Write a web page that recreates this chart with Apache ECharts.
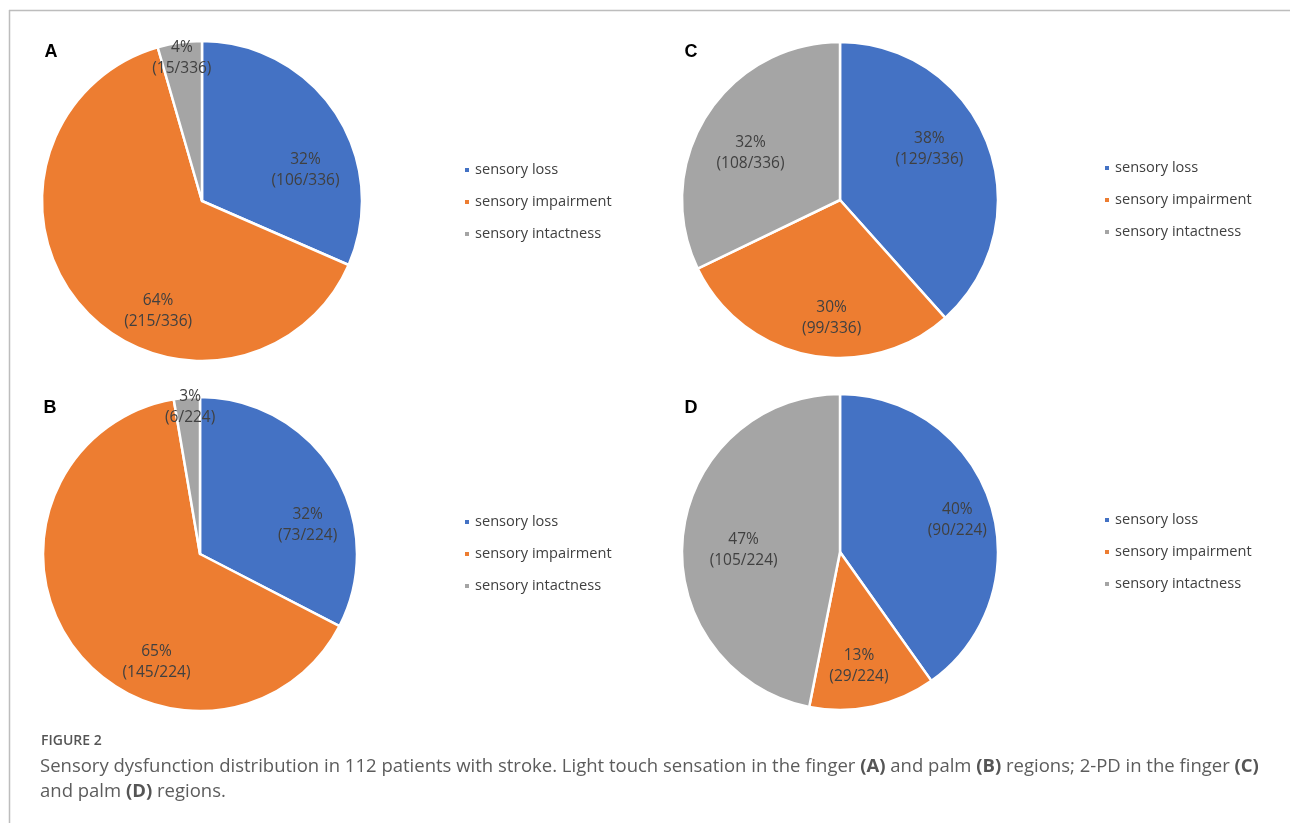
<!DOCTYPE html>
<html>
<head>
<meta charset="utf-8">
<script src="https://cdn.jsdelivr.net/npm/echarts@6/dist/echarts.min.js"></script>
<style>
  html, body { margin: 0; padding: 0; background: #fff; }
  #main { width: 1290px; height: 823px; }
</style>
</head>
<body>
<div id="main"></div>
<script>
// categories shared by all four pies
var categories = ['sensory loss', 'sensory impairment', 'sensory intactness'];
// counts per panel (loss, impairment, intactness)
var valuesA = [106, 215, 15];   // light touch, finger
var valuesB = [73, 145, 6];     // light touch, palm
var valuesC = [129, 99, 108];   // 2-PD, finger
var valuesD = [90, 29, 105];    // 2-PD, palm
var panelNames = ['A', 'B', 'C', 'D'];

var colors = ['#4472C4', '#ED7D31', '#A5A5A5'];
var textFont = '"Open Sans", "Noto Sans", sans-serif';

// pie geometry for each panel
var pies = [
  { center: [202, 201], r: 160, data: valuesA, legendLeft: 463, legendTop: 162, tag: [51, 52] },
  { center: [200, 554], r: 157, data: valuesB, legendLeft: 463, legendTop: 514, tag: [50, 408] },
  { center: [840, 200], r: 158, data: valuesC, legendLeft: 1103, legendTop: 160, tag: [691, 52] },
  { center: [840, 552], r: 158, data: valuesD, legendLeft: 1103, legendTop: 512, tag: [691, 408] }
];
// where the data labels sit: [fraction of radius, angle shift in degrees] (excel "best fit" look)
var labelPlace = [
  [[0.675, 16.6], [0.74, -27], [0.9, 0]],
  [[0.71, 16.3], [0.745, -32], [0.94, 1]],
  [[0.65, -8.6], [0.75, -7.2], [0.64, -4.4]],
  [[0.77, 2.4], [0.73, 2.6], [0.61, -4.6]]
];

function sum(arr) { return arr.reduce(function (a, b) { return a + b; }, 0); }

var series = pies.map(function (p, si) {
  var total = sum(p.data);
  return {
    name: panelNames[si],
    type: 'pie',
    center: p.center,
    radius: p.r,
    startAngle: 90,
    clockwise: true,
    percentPrecision: 0,
    silent: true,
    itemStyle: { borderColor: '#fff', borderWidth: 2.5 },
    label: {
      show: true,
      position: 'inside',
      formatter: function (params) {
        return params.percent + '%\n(' + params.value + '/' + total + ')';
      },
      color: '#404040',
      fontFamily: textFont,
      fontSize: 15.5,
      lineHeight: 21
    },
    labelLine: { show: false },
    labelLayout: function (params) {
      var i = params.dataIndex;
      var before = sum(p.data.slice(0, i));
      var mid = (before + p.data[i] / 2) / total * 360;
      var pl = labelPlace[si][i];
      var a = (mid + pl[1]) * Math.PI / 180;
      return {
        x: p.center[0] + pl[0] * p.r * Math.sin(a),
        y: p.center[1] - pl[0] * p.r * Math.cos(a),
        align: 'center',
        verticalAlign: 'middle'
      };
    },
    data: categories.map(function (c, k) {
      return { name: c, value: p.data[k] };
    })
  };
});

var legends = pies.map(function (p) {
  return {
    orient: 'vertical',
    left: p.legendLeft,
    top: p.legendTop,
    padding: 0,
    itemWidth: 6,
    itemHeight: 6,
    itemGap: 16,
    icon: 'rect',
    selectedMode: false,
    textStyle: { color: '#404040', fontFamily: textFont, fontSize: 14.6, lineHeight: 16 },
    data: categories
  };
});

var graphics = [
  { type: 'line', shape: { x1: 9, y1: 10.5, x2: 1290, y2: 10.5 }, style: { stroke: '#bdbdbd', lineWidth: 1.5 } },
  { type: 'line', shape: { x1: 9.5, y1: 10, x2: 9.5, y2: 823 }, style: { stroke: '#bdbdbd', lineWidth: 1.5 } }
];
pies.forEach(function (p, i) {
  graphics.push({
    type: 'text', x: p.tag[0], y: p.tag[1],
    style: {
      text: panelNames[i], fill: '#000', font: 'bold 18px "Liberation Sans", Arial, sans-serif',
      align: 'center', verticalAlign: 'middle'
    }
  });
});
graphics.push({
  type: 'text', x: 41, y: 741,
  style: { text: 'FIGURE 2', fill: '#555', font: '600 14px "Open Sans", sans-serif', verticalAlign: 'middle' }
});
var capFont = '"Open Sans", sans-serif';
var capRich = { b: { fontWeight: 'bold', fill: '#555', fontFamily: capFont, fontSize: 18.5 } };
graphics.push({
  type: 'text', x: 40, y: 767,
  style: {
    text: 'Sensory dysfunction distribution in 112 patients with stroke. Light touch sensation in the finger {b|(A)} and palm {b|(B)} regions; 2-PD in the finger {b|(C)}',
    rich: capRich, fill: '#5c5c5c', font: '18.5px ' + capFont, verticalAlign: 'middle'
  }
});
graphics.push({
  type: 'text', x: 40, y: 792,
  style: {
    text: 'and palm {b|(D)} regions.',
    rich: capRich, fill: '#5c5c5c', font: '18.5px ' + capFont, verticalAlign: 'middle'
  }
});

var chart = echarts.init(document.getElementById('main'));
chart.setOption({
  backgroundColor: '#ffffff',
  animation: false,
  color: colors,
  legend: legends,
  series: series,
  graphic: graphics
});
</script>
</body>
</html>
